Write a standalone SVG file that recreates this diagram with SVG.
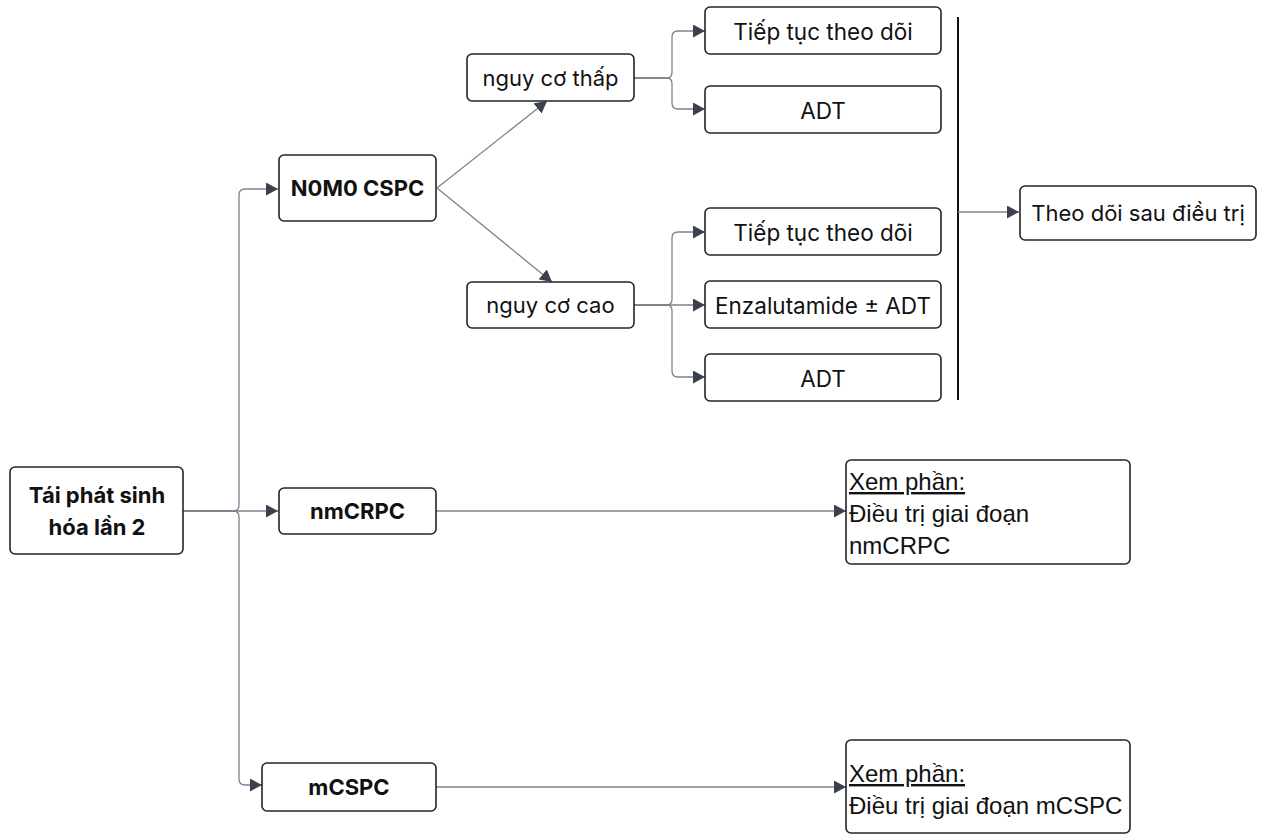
<svg xmlns="http://www.w3.org/2000/svg" width="1268" height="834" viewBox="0 0 1268 834">
  <defs>
    <marker id="arrow" markerUnits="userSpaceOnUse" markerWidth="13" markerHeight="13" refX="12" refY="6.5" orient="auto">
      <path d="M0,0 L12,6.5 L0,13 z" fill="#3b424d"/>
    </marker>
    <style>
      .box { fill: #ffffff; stroke: #222428; stroke-width: 1.6; }
      .lbl { font-family: Inter, "Noto Sans", sans-serif; font-size: 22px; fill: #111; text-anchor: middle; dominant-baseline: central; }
      .opt { font-size: 22.5px; }
      .bold { font-weight: 700; }
      .ref { font-family: "Liberation Sans", Arial, sans-serif; font-size: 24px; fill: #111; }
      .link { fill: none; stroke: #7c828d; stroke-width: 1.3; }
    </style>
  </defs>
  <rect width="1268" height="834" fill="#ffffff"/>

  <!-- connectors -->
  <g id="connectors">
    <!-- trunk from the root node -->
    <path class="link" d="M183,511 H233 Q239,511 239,505 V195 Q239,189 245,189 H278" marker-end="url(#arrow)"/>
    <path class="link" d="M183,511 H278" marker-end="url(#arrow)"/>
    <path class="link" d="M183,511 H233 Q239,511 239,517 V779 Q239,785 245,785 H262" marker-end="url(#arrow)"/>
    <!-- N0M0 CSPC to risk groups -->
    <path class="link" d="M437,188 L547,101" marker-end="url(#arrow)"/>
    <path class="link" d="M437,188 L552,282" marker-end="url(#arrow)"/>
    <!-- low risk branches -->
    <path class="link" d="M634,78 H667 Q672,78 672,72 V37 Q672,31 678,31 H705" marker-end="url(#arrow)"/>
    <path class="link" d="M634,78 H667 Q672,78 672,84 V103 Q672,109 678,109 H705" marker-end="url(#arrow)"/>
    <!-- high risk branches -->
    <path class="link" d="M634,305 H667 Q672,305 672,299 V238 Q672,232 678,232 H705" marker-end="url(#arrow)"/>
    <path class="link" d="M634,305 H705" marker-end="url(#arrow)"/>
    <path class="link" d="M634,305 H667 Q672,305 672,311 V371 Q672,377 678,377 H705" marker-end="url(#arrow)"/>
    <!-- collector bar and follow-up -->
    <line x1="958" y1="17" x2="958" y2="400" stroke="#111" stroke-width="2"/>
    <path class="link" d="M958,212 H1019" marker-end="url(#arrow)"/>
    <!-- references -->
    <path class="link" d="M436,511 H846" marker-end="url(#arrow)"/>
    <path class="link" d="M436,787 H846" marker-end="url(#arrow)"/>
  </g>

  <g id="root">
    <rect class="box" x="10" y="467" width="173" height="87" rx="5"/>
    <text class="lbl bold" x="97" y="495">Tái phát sinh</text>
    <text class="lbl bold" x="97" y="527">hóa lần 2</text>
  </g>

  <g id="n0m0">
    <rect class="box" x="279" y="155" width="157" height="66" rx="5"/>
    <text class="lbl bold" x="357.5" y="188">N0M0 CSPC</text>
  </g>

  <g id="nmcrpc">
    <rect class="box" x="279" y="488" width="157" height="46" rx="5"/>
    <text class="lbl bold" x="357.5" y="511">nmCRPC</text>
  </g>

  <g id="mcspc">
    <rect class="box" x="262" y="763" width="174" height="48" rx="5"/>
    <text class="lbl bold" x="349" y="787">mCSPC</text>
  </g>

  <g id="low-risk">
    <rect class="box" x="467" y="54" width="167" height="47" rx="5"/>
    <text class="lbl" x="550.5" y="78">nguy cơ thấp</text>
  </g>

  <g id="high-risk">
    <rect class="box" x="467" y="282" width="167" height="46" rx="5"/>
    <text class="lbl" x="550.5" y="305">nguy cơ cao</text>
  </g>

  <g id="low-monitor">
    <rect class="box" x="705" y="7" width="236" height="47" rx="5"/>
    <text class="lbl opt" x="823" y="31">Tiếp tục theo dõi</text>
  </g>

  <g id="low-adt">
    <rect class="box" x="705" y="86" width="236" height="47" rx="5"/>
    <text class="lbl opt" x="823" y="110">ADT</text>
  </g>

  <g id="high-monitor">
    <rect class="box" x="705" y="208" width="236" height="47" rx="5"/>
    <text class="lbl opt" x="823" y="232">Tiếp tục theo dõi</text>
  </g>

  <g id="high-enza">
    <rect class="box" x="705" y="281" width="236" height="47" rx="5"/>
    <text class="lbl opt" x="823" y="305">Enzalutamide ± ADT</text>
  </g>

  <g id="high-adt">
    <rect class="box" x="705" y="354" width="236" height="47" rx="5"/>
    <text class="lbl opt" x="823" y="378">ADT</text>
  </g>

  <g id="follow-up">
    <rect class="box" x="1020" y="186" width="236" height="54" rx="5"/>
    <text class="lbl" x="1138" y="213">Theo dõi sau điều trị</text>
  </g>

  <g id="see-nmcrpc">
    <rect class="box" x="846" y="460" width="284" height="104" rx="5"/>
    <text class="ref" x="849" y="490" text-decoration="underline">Xem phần:</text>
    <text class="ref" x="849" y="522">Điều trị giai đoạn</text>
    <text class="ref" x="849" y="554">nmCRPC</text>
  </g>

  <g id="see-mcspc">
    <rect class="box" x="846" y="740" width="284" height="93" rx="5"/>
    <text class="ref" x="849" y="782" text-decoration="underline">Xem phần:</text>
    <text class="ref" x="849" y="814">Điều trị giai đoạn mCSPC</text>
  </g>
</svg>
